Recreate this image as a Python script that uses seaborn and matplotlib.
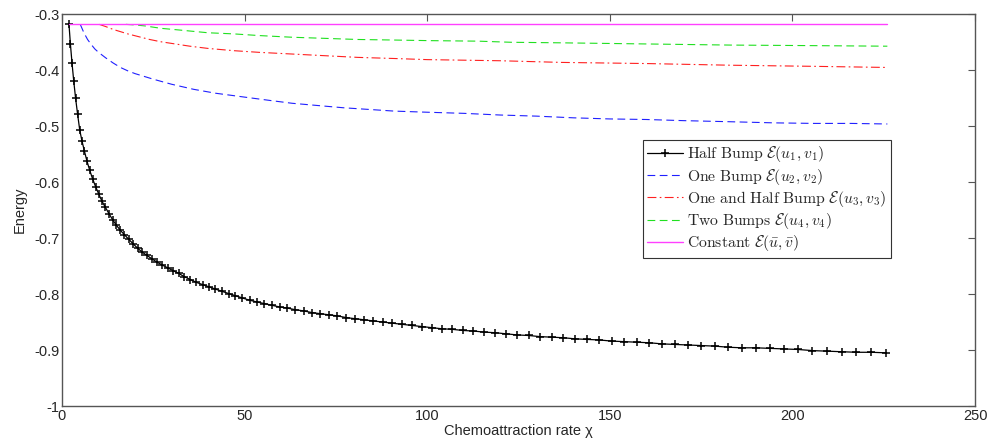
import matplotlib
matplotlib.use("Agg")
import matplotlib.pyplot as plt
import seaborn as sns

# ---------------- data ----------------
half_x = [1.90, 2.30, 2.74, 3.21, 3.72, 4.28, 4.86, 5.49, 6.16, 6.86,
          7.60, 8.38, 9.20, 10.05, 10.94, 11.88, 12.84, 13.85, 14.90, 15.98,
          17.10, 18.26, 19.46, 20.69, 21.96, 23.28, 24.62, 26.01, 27.44, 28.90,
          30.40, 31.94, 33.52, 35.13, 36.78, 38.48, 40.20, 41.97, 43.78, 45.62,
          47.50, 49.42, 51.38, 53.37, 55.40, 57.48, 59.58, 61.73, 63.92, 66.14,
          68.40, 70.70, 73.04, 75.41, 77.82, 80.28, 82.76, 85.29, 87.86, 90.46,
          93.10, 95.78, 98.50, 101.25, 104.04, 106.88, 109.74, 112.65, 115.60, 118.58,
          121.60, 124.66, 127.76, 130.89, 134.06, 137.28, 140.52, 143.81, 147.14, 150.50,
          153.90, 157.34, 160.82, 164.33, 167.88, 171.48, 175.10, 178.77, 182.48, 186.22,
          190.00, 193.82, 197.68, 201.57, 205.50, 209.48, 213.48, 217.53, 221.62, 225.74]
half_y = [-0.317, -0.353, -0.387, -0.419, -0.450, -0.479, -0.507, -0.527, -0.545, -0.563,
          -0.579, -0.594, -0.608, -0.621, -0.634, -0.645, -0.656, -0.667, -0.677, -0.686,
          -0.694, -0.702, -0.710, -0.718, -0.725, -0.731, -0.737, -0.743, -0.748, -0.753,
          -0.758, -0.763, -0.769, -0.774, -0.779, -0.783, -0.787, -0.791, -0.795, -0.799,
          -0.803, -0.807, -0.811, -0.814, -0.817, -0.820, -0.823, -0.825, -0.828, -0.830,
          -0.833, -0.835, -0.837, -0.839, -0.842, -0.844, -0.846, -0.848, -0.850, -0.852,
          -0.854, -0.856, -0.858, -0.860, -0.862, -0.863, -0.865, -0.866, -0.868, -0.869,
          -0.871, -0.873, -0.874, -0.876, -0.877, -0.878, -0.880, -0.881, -0.882, -0.884,
          -0.885, -0.886, -0.887, -0.889, -0.890, -0.891, -0.892, -0.893, -0.895, -0.896,
          -0.896, -0.897, -0.898, -0.899, -0.901, -0.902, -0.903, -0.904, -0.904, -0.905]

one_x = [5.0, 6.0, 7.0, 8.0, 9.0, 10.0, 12.0, 14.0, 16.0, 18.0, 20.0, 25.0, 30.0,
         36.0, 42.0, 50.0, 57.0, 63.0, 70.0, 77.0, 84.0, 91.0, 100.0, 110.0, 120.0,
         130.0, 140.0, 150.0, 160.0, 170.0, 183.0, 195.0, 206.0, 216.0, 226.0]
one_y = [-0.318, -0.333, -0.345, -0.354, -0.362, -0.368, -0.378, -0.387, -0.395, -0.401,
         -0.406, -0.416, -0.425, -0.434, -0.441, -0.448, -0.454, -0.459, -0.463, -0.467,
         -0.470, -0.473, -0.475, -0.477, -0.480, -0.482, -0.485, -0.487, -0.488, -0.490,
         -0.492, -0.494, -0.495, -0.495, -0.496]

onehalf_x = [10.2, 12.0, 14.0, 16.0, 18.0, 21.0, 24.0, 27.0, 31.0, 35.0, 40.0, 47.0,
             54.0, 63.0, 72.0, 81.0, 91.0, 100.0, 110.0, 120.0, 137.0, 160.0, 183.0,
             206.0, 226.0]
onehalf_y = [-0.318, -0.322, -0.327, -0.331, -0.335, -0.340, -0.345, -0.349, -0.353,
             -0.357, -0.361, -0.365, -0.368, -0.371, -0.374, -0.377, -0.379, -0.381,
             -0.382, -0.383, -0.386, -0.388, -0.391, -0.393, -0.395]

two_x = [17.5, 20.0, 23.0, 27.0, 32.0, 40.0, 47.0, 54.0, 63.0, 72.0, 81.0, 91.0,
         100.0, 114.0, 123.0, 137.0, 160.0, 183.0, 206.0, 226.0]
two_y = [-0.318, -0.319, -0.321, -0.325, -0.328, -0.333, -0.335, -0.338, -0.341,
         -0.343, -0.345, -0.346, -0.347, -0.348, -0.350, -0.351, -0.353, -0.355,
         -0.356, -0.357]

const_x = [1.9, 226.0]
const_y = [-0.318, -0.318]

labels = [r'$\mathrm{Half\ Bump}\ \mathcal{E}(u_1,v_1)$',
          r'$\mathrm{One\ Bump}\ \mathcal{E}(u_2,v_2)$',
          r'$\mathrm{One\ and\ Half\ Bump}\ \mathcal{E}(u_3,v_3)$',
          r'$\mathrm{Two\ Bumps}\ \mathcal{E}(u_4,v_4)$',
          r'$\mathrm{Constant}\ \mathcal{E}(\bar{u},\bar{v})$']
xticks = [0, 50, 100, 150, 200, 250]
yticks = [-1, -0.9, -0.8, -0.7, -0.6, -0.5, -0.4, -0.3]
yticklabels = ['-1', '-0.9', '-0.8', '-0.7', '-0.6', '-0.5', '-0.4', '-0.3']

# ---------------- style ----------------
sns.set_style("white")
plt.rcParams['font.family'] = ['Liberation Sans', 'DejaVu Sans']
plt.rcParams['mathtext.fontset'] = 'cm'

fig = plt.figure(figsize=(9.9, 4.41), dpi=100)
ax = fig.add_axes([62 / 990, 1 - 406 / 441, 913 / 990, (406 - 14.3) / 441])

sns.lineplot(x=half_x, y=half_y, ax=ax, color='black', linewidth=0.9,
             marker='+', markersize=6, markeredgewidth=1.1, markeredgecolor='black',
             label=labels[0], sort=False)
sns.lineplot(x=one_x, y=one_y, ax=ax, color='#2020ff', linewidth=0.8,
             linestyle=(0, (7, 4)), label=labels[1], sort=False)
sns.lineplot(x=onehalf_x, y=onehalf_y, ax=ax, color='#ff2020', linewidth=0.8,
             linestyle=(0, (8, 3, 1.5, 3)), label=labels[2], sort=False)
sns.lineplot(x=two_x, y=two_y, ax=ax, color='#20e020', linewidth=0.8,
             linestyle=(0, (7, 4)), label=labels[3], sort=False)
sns.lineplot(x=const_x, y=const_y, ax=ax, color='#ff40ff', linewidth=1.0,
             label=labels[4], sort=False)

ax.set_xlim(0, 250)
ax.set_ylim(-1, -0.3)
ax.set_xticks(xticks)
ax.set_xticklabels([str(t) for t in xticks])
ax.set_yticks(yticks)
ax.set_yticklabels(yticklabels)
ax.tick_params(direction='in', length=5, width=0.8, color='#555555',
               top=True, right=True, labelsize=10.5, pad=2)
for sp in ax.spines.values():
    sp.set_visible(True)
    sp.set_color('#555555')
    sp.set_linewidth(1.0)

ax.set_xlabel('Chemoattraction rate χ', fontsize=10.5, labelpad=1)
ax.set_ylabel('Energy', fontsize=10.5, labelpad=5)

leg = ax.legend(loc='upper left', bbox_to_anchor=(0.636, 0.679), borderaxespad=0,
                frameon=True, fancybox=False, edgecolor='#333333', fontsize=11.3,
                handlelength=2.3, handletextpad=0.25, labelspacing=0.14,
                borderpad=0.28, framealpha=1)
leg.get_frame().set_linewidth(0.8)

fig.savefig('out.png', dpi=100, facecolor='white')
